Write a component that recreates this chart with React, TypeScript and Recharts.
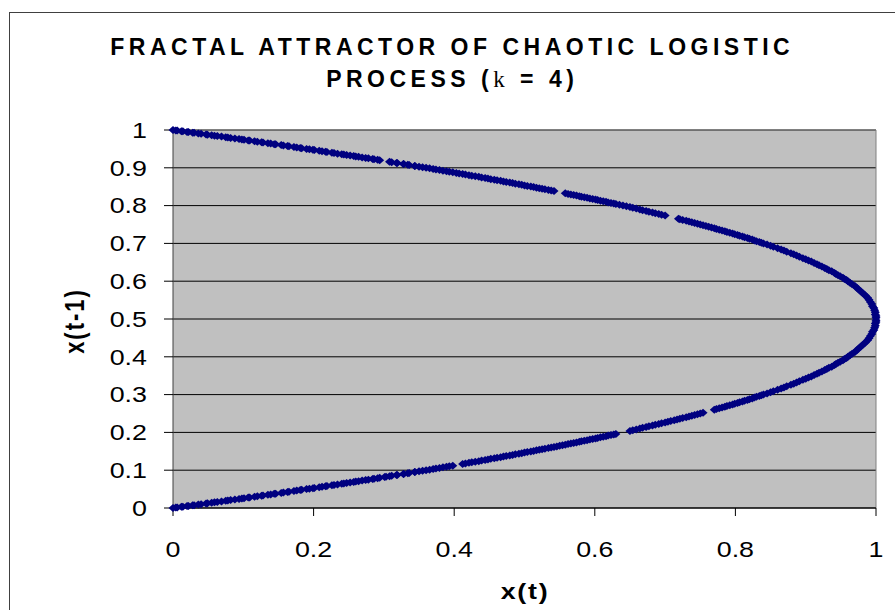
import {
  ScatterChart,
  Scatter,
  XAxis,
  YAxis,
  CartesianGrid,
  ReferenceLine,
  Label,
} from "recharts";

// [x(t), x(t-1)] pairs on the rising branch (x(t-1) < 0.5)
const risingA: [number, number][] = [
  [0, 0], [0.004, 0.001], [0.012, 0.003], [0.02, 0.005], [0.028, 0.007], [0.036, 0.009],
  [0.047, 0.012], [0.055, 0.014], [0.063, 0.016], [0.075, 0.019], [0.082, 0.021], [0.094, 0.024],
  [0.101, 0.026], [0.109, 0.028], [0.12, 0.031], [0.128, 0.033], [0.139, 0.036], [0.146, 0.038],
  [0.157, 0.041], [0.165, 0.043], [0.176, 0.046], [0.183, 0.048], [0.194, 0.051], [0.201, 0.053],
  [0.212, 0.056], [0.219, 0.058], [0.229, 0.061], [0.24, 0.064], [0.247, 0.066], [0.257, 0.069],
  [0.264, 0.071], [0.274, 0.074], [0.284, 0.077], [0.291, 0.079], [0.301, 0.082], [0.308, 0.084],
  [0.318, 0.087], [0.328, 0.09], [0.334, 0.092], [0.344, 0.095], [0.35, 0.097], [0.36, 0.1],
  [0.37, 0.103], [0.379, 0.106], [0.389, 0.109], [0.398, 0.112], [0.416, 0.118],
  [0.425, 0.121], [0.435, 0.124], [0.444, 0.127], [0.452, 0.13], [0.461, 0.133], [0.47, 0.136],
  [0.479, 0.139], [0.487, 0.142], [0.496, 0.145], [0.504, 0.148], [0.513, 0.151], [0.521, 0.154],
  [0.529, 0.157], [0.538, 0.16], [0.546, 0.163], [0.554, 0.166], [0.562, 0.169], [0.57, 0.172],
  [0.578, 0.175], [0.585, 0.178], [0.593, 0.181], [0.601, 0.184], [0.608, 0.187], [0.616, 0.19],
  [0.623, 0.193], [0.63, 0.196],
  [0.65, 0.204], [0.659, 0.208], [0.668, 0.212], [0.677, 0.216], [0.686, 0.22], [0.695, 0.224],
  [0.704, 0.228], [0.713, 0.232], [0.721, 0.236], [0.73, 0.24], [0.738, 0.244], [0.746, 0.248],
  [0.754, 0.252], [0.77, 0.26], [0.777, 0.264], [0.785, 0.268], [0.792, 0.272], [0.799, 0.276],
  [0.806, 0.28], [0.813, 0.284], [0.82, 0.288], [0.827, 0.292], [0.834, 0.296], [0.84, 0.3],
  [0.85, 0.306], [0.86, 0.313], [0.869, 0.319], [0.879, 0.326], [0.887, 0.332], [0.896, 0.339],
  [0.904, 0.345], [0.912, 0.352], [0.919, 0.358], [0.927, 0.365], [0.933, 0.371], [0.941, 0.378],
  [0.946, 0.384], [0.953, 0.391], [0.958, 0.397], [0.963, 0.404],
  [0.97, 0.413], [0.976, 0.423], [0.982, 0.433], [0.988, 0.444], [0.992, 0.455], [0.995, 0.466],
  [0.998, 0.477], [0.999, 0.488], [1, 0.497],
];

const risingB: [number, number][] = [
  [0.006, 0.0015], [0.014, 0.0035], [0.022, 0.0055], [0.03, 0.0075], [0.04, 0.01], [0.049, 0.0125],
  [0.059, 0.015], [0.069, 0.0175], [0.078, 0.02], [0.088, 0.0225], [0.098, 0.025], [0.107, 0.0275],
  [0.116, 0.03], [0.126, 0.0325], [0.135, 0.035], [0.144, 0.0375], [0.154, 0.04], [0.163, 0.0425],
  [0.172, 0.045], [0.181, 0.0475], [0.19, 0.05], [0.199, 0.0525], [0.208, 0.055], [0.217, 0.0575],
  [0.226, 0.06], [0.234, 0.0625], [0.243, 0.065], [0.252, 0.0675], [0.26, 0.07], [0.269, 0.0725],
  [0.278, 0.075], [0.286, 0.0775], [0.294, 0.08], [0.303, 0.0825], [0.311, 0.085], [0.319, 0.0875],
  [0.328, 0.09], [0.336, 0.0925], [0.344, 0.095], [0.355, 0.0985],
  [0.365, 0.1015], [0.374, 0.1045], [0.384, 0.1075], [0.393, 0.1105], [0.412, 0.1165],
  [0.421, 0.1195], [0.43, 0.1225], [0.439, 0.1255], [0.448, 0.1285], [0.457, 0.1315], [0.466, 0.1345],
  [0.474, 0.1375], [0.483, 0.1405], [0.492, 0.1435], [0.5, 0.1465], [0.509, 0.1495], [0.517, 0.1525],
  [0.525, 0.1555], [0.534, 0.1585], [0.542, 0.1615], [0.55, 0.1645], [0.558, 0.1675], [0.566, 0.1705],
  [0.574, 0.1735], [0.581, 0.1765], [0.589, 0.1795], [0.597, 0.1825], [0.604, 0.1855], [0.612, 0.1885],
  [0.619, 0.1915], [0.627, 0.1945],
  [0.654, 0.206], [0.664, 0.21], [0.673, 0.214], [0.682, 0.218], [0.691, 0.222], [0.7, 0.226],
  [0.708, 0.23], [0.717, 0.234], [0.725, 0.238], [0.734, 0.242], [0.742, 0.246], [0.75, 0.25],
  [0.773, 0.262], [0.781, 0.266], [0.788, 0.27], [0.796, 0.274], [0.803, 0.278], [0.81, 0.282],
  [0.817, 0.286], [0.824, 0.29], [0.83, 0.294], [0.837, 0.298],
  [0.845, 0.303], [0.854, 0.309], [0.865, 0.316], [0.873, 0.322], [0.883, 0.329], [0.891, 0.335],
  [0.9, 0.342], [0.908, 0.348], [0.916, 0.355], [0.923, 0.361], [0.93, 0.368], [0.937, 0.374],
  [0.943, 0.381], [0.949, 0.387], [0.955, 0.394], [0.96, 0.4],
  [0.966, 0.408], [0.973, 0.418], [0.979, 0.428], [0.985, 0.438], [0.99, 0.449], [0.994, 0.46],
  [0.997, 0.471], [0.999, 0.482], [1, 0.492],
];

// [x(t), x(t-1)] pairs on the falling branch (x(t-1) > 0.5)
const fallingA: [number, number][] = [
  [0, 1], [0.006, 0.9985], [0.014, 0.9965], [0.022, 0.9945], [0.03, 0.9925], [0.04, 0.99],
  [0.049, 0.9875], [0.059, 0.985], [0.069, 0.9825], [0.078, 0.98], [0.088, 0.9775], [0.098, 0.975],
  [0.107, 0.9725], [0.116, 0.97], [0.126, 0.9675], [0.135, 0.965], [0.144, 0.9625], [0.154, 0.96],
  [0.163, 0.9575], [0.172, 0.955], [0.181, 0.9525], [0.19, 0.95], [0.199, 0.9475], [0.208, 0.945],
  [0.217, 0.9425], [0.226, 0.94], [0.234, 0.9375], [0.243, 0.935], [0.252, 0.9325], [0.26, 0.93],
  [0.269, 0.9275], [0.278, 0.925], [0.286, 0.9225], [0.294, 0.92], [0.311, 0.915], [0.319, 0.9125],
  [0.328, 0.91], [0.336, 0.9075], [0.344, 0.905], [0.355, 0.9015],
  [0.365, 0.8985], [0.374, 0.8955], [0.384, 0.8925], [0.393, 0.8895], [0.403, 0.8865], [0.412, 0.8835],
  [0.421, 0.8805], [0.43, 0.8775], [0.439, 0.8745], [0.448, 0.8715], [0.457, 0.8685], [0.466, 0.8655],
  [0.474, 0.8625], [0.483, 0.8595], [0.492, 0.8565], [0.5, 0.8535], [0.509, 0.8505], [0.517, 0.8475],
  [0.525, 0.8445], [0.534, 0.8415], [0.542, 0.8385], [0.558, 0.8325], [0.566, 0.8295], [0.574, 0.8265],
  [0.581, 0.8235], [0.589, 0.8205], [0.597, 0.8175], [0.604, 0.8145], [0.612, 0.8115], [0.619, 0.8085],
  [0.627, 0.8055], [0.635, 0.802],
  [0.645, 0.798], [0.654, 0.794], [0.664, 0.79], [0.673, 0.786], [0.682, 0.782], [0.691, 0.778],
  [0.7, 0.774], [0.719, 0.765], [0.725, 0.762], [0.734, 0.758], [0.742, 0.754], [0.75, 0.75],
  [0.758, 0.746], [0.766, 0.742], [0.773, 0.738], [0.781, 0.734], [0.788, 0.73], [0.796, 0.726],
  [0.803, 0.722], [0.81, 0.718], [0.817, 0.714], [0.824, 0.71], [0.83, 0.706], [0.837, 0.702],
  [0.845, 0.697], [0.854, 0.691], [0.865, 0.684], [0.873, 0.678], [0.883, 0.671], [0.891, 0.665],
  [0.9, 0.658], [0.908, 0.652], [0.916, 0.645], [0.923, 0.639], [0.93, 0.632], [0.937, 0.626],
  [0.943, 0.619], [0.949, 0.613], [0.955, 0.606], [0.96, 0.6], [0.966, 0.592], [0.973, 0.582],
  [0.979, 0.572], [0.985, 0.562], [0.99, 0.551], [0.994, 0.54], [0.997, 0.529], [0.999, 0.518],
  [1, 0.508],
];

const fallingB: [number, number][] = [
  [0.004, 0.999], [0.012, 0.997], [0.02, 0.995], [0.028, 0.993], [0.036, 0.991], [0.047, 0.988],
  [0.055, 0.986], [0.063, 0.984], [0.075, 0.981], [0.082, 0.979], [0.094, 0.976], [0.101, 0.974],
  [0.109, 0.972], [0.12, 0.969], [0.128, 0.967], [0.139, 0.964], [0.146, 0.962], [0.157, 0.959],
  [0.165, 0.957], [0.176, 0.954], [0.183, 0.952], [0.194, 0.949], [0.201, 0.947], [0.212, 0.944],
  [0.219, 0.942], [0.229, 0.939], [0.24, 0.936], [0.247, 0.934], [0.257, 0.931], [0.264, 0.929],
  [0.274, 0.926], [0.284, 0.923], [0.291, 0.921], [0.308, 0.916], [0.318, 0.913], [0.328, 0.91],
  [0.334, 0.908], [0.344, 0.905], [0.35, 0.903], [0.36, 0.9],
  [0.37, 0.897], [0.379, 0.894], [0.389, 0.891], [0.398, 0.888], [0.407, 0.885], [0.416, 0.882],
  [0.425, 0.879], [0.435, 0.876], [0.444, 0.873], [0.452, 0.87], [0.461, 0.867], [0.47, 0.864],
  [0.479, 0.861], [0.487, 0.858], [0.496, 0.855], [0.504, 0.852], [0.513, 0.849], [0.521, 0.846],
  [0.529, 0.843], [0.538, 0.84], [0.562, 0.831], [0.57, 0.828], [0.578, 0.825], [0.585, 0.822],
  [0.593, 0.819], [0.601, 0.816], [0.608, 0.813], [0.616, 0.81], [0.623, 0.807], [0.63, 0.804],
  [0.64, 0.8],
  [0.65, 0.796], [0.659, 0.792], [0.668, 0.788], [0.677, 0.784], [0.686, 0.78], [0.695, 0.776],
  [0.721, 0.764], [0.73, 0.76], [0.738, 0.756], [0.746, 0.752], [0.754, 0.748], [0.762, 0.744],
  [0.77, 0.74], [0.777, 0.736], [0.785, 0.732], [0.792, 0.728], [0.799, 0.724], [0.806, 0.72],
  [0.813, 0.716], [0.82, 0.712], [0.827, 0.708], [0.834, 0.704], [0.84, 0.7],
  [0.85, 0.694], [0.86, 0.687], [0.869, 0.681], [0.879, 0.674], [0.887, 0.668], [0.896, 0.661],
  [0.904, 0.655], [0.912, 0.648], [0.919, 0.642], [0.927, 0.635], [0.933, 0.629], [0.941, 0.622],
  [0.946, 0.616], [0.953, 0.609], [0.958, 0.603], [0.963, 0.596],
  [0.97, 0.587], [0.976, 0.577], [0.982, 0.567], [0.988, 0.556], [0.992, 0.545], [0.995, 0.534],
  [0.998, 0.523], [0.999, 0.512], [1, 0.503],
];

const X_TICKS = [0, 0.2, 0.4, 0.6, 0.8, 1];
const Y_TICKS = [0, 0.1, 0.2, 0.3, 0.4, 0.5, 0.6, 0.7, 0.8, 0.9, 1];

const FONT = '"Liberation Sans", Arial, Helvetica, sans-serif';
const NAVY = "#000080";
const STRETCH = 1.22; // axis text is drawn wide

function Diamond(props: any) {
  const { cx, cy } = props;
  if (cx == null || cy == null) return null;
  return (
    <polygon
      points={`${cx - 4.5},${cy} ${cx},${cy - 4} ${cx + 4.5},${cy} ${cx},${cy + 4}`}
      fill={NAVY}
    />
  );
}

function XTick({ x, y, payload }: any) {
  return (
    <g transform={`translate(${x},${y}) scale(${STRETCH},1)`}>
      <text x={0} y={0} dy="0.71em" textAnchor="middle" fontSize={22} fill="#000">
        {payload.value}
      </text>
    </g>
  );
}

function YTick({ x, y, payload }: any) {
  return (
    <g transform={`translate(${x},${y}) scale(${STRETCH},1)`}>
      <text x={0} y={0} dy="0.355em" textAnchor="end" fontSize={22} fill="#000">
        {payload.value}
      </text>
    </g>
  );
}

const XTitle = () => (
  <g transform={`translate(525,599) scale(${STRETCH},1)`}>
    <text x={0} y={0} textAnchor="middle" fontSize={22} fontWeight="bold" letterSpacing={1.4} fill="#000">
      x(t)
    </text>
  </g>
);

const YTitle = () => (
  <g transform={`translate(84,321) rotate(-90) scale(1,${STRETCH})`}>
    <text x={0} y={0} textAnchor="middle" fontSize={22} fontWeight="bold" letterSpacing={2} fill="#000">
      x(t-1)
    </text>
  </g>
);

const toPoints = (rows: [number, number][]) => rows.map(([xt, prev]) => ({ xt, prev }));

export default function App() {
  const rising = toPoints([...risingA, ...risingB]);
  const falling = toPoints([...fallingA, ...fallingB]);

  return (
    <div
      style={{
        position: "absolute",
        left: 0,
        top: 0,
        width: 895,
        height: 610,
        overflow: "hidden",
        background: "#fff",
        fontFamily: FONT,
      }}
    >
      <div
        style={{
          position: "absolute",
          left: 9,
          top: 12,
          width: 900,
          height: 620,
          border: "1px solid #404040",
          boxSizing: "border-box",
        }}
      />
      <div style={{ position: "absolute", left: 0, top: 0 }}>
        <ScatterChart width={895} height={610} margin={{ top: 130, right: 19, bottom: 42, left: 93 }}>
          <CartesianGrid vertical={false} stroke="#000" fill="#C0C0C0" fillOpacity={1} />
          <XAxis
            type="number"
            dataKey="xt"
            domain={[0, 1]}
            ticks={X_TICKS}
            interval={0}
            height={60}
            tickSize={8}
            tickMargin={25}
            tick={<XTick />}
            axisLine={{ stroke: "#000" }}
            tickLine={{ stroke: "#000" }}
          >
            <Label content={XTitle} />
          </XAxis>
          <YAxis
            type="number"
            dataKey="prev"
            domain={[0, 1]}
            ticks={Y_TICKS}
            interval={0}
            width={80}
            tickSize={9}
            tickMargin={17}
            tick={<YTick />}
            axisLine={{ stroke: "#404040" }}
            tickLine={{ stroke: "#000" }}
          >
            <Label content={YTitle} />
          </YAxis>
          <ReferenceLine y={1} stroke="#808080" />
          <ReferenceLine x={1} stroke="#808080" />
          <Scatter data={rising} shape={<Diamond />} isAnimationActive={false} />
          <Scatter data={falling} shape={<Diamond />} isAnimationActive={false} />
        </ScatterChart>
      </div>
      <div
        style={{
          position: "absolute",
          left: 0,
          top: 31,
          width: 900,
          paddingLeft: 4.5,
          boxSizing: "border-box",
          textAlign: "center",
          fontSize: 23,
          fontWeight: "bold",
          lineHeight: "32px",
          letterSpacing: 4.5,
          color: "#000",
        }}
      >
        <div>FRACTAL ATTRACTOR OF CHAOTIC LOGISTIC</div>
        <div>
          PROCESS (
          <span style={{ fontFamily: '"Liberation Serif", "Times New Roman", serif', fontWeight: "normal" }}>k</span>
          {" "}= 4)
        </div>
      </div>
    </div>
  );
}
